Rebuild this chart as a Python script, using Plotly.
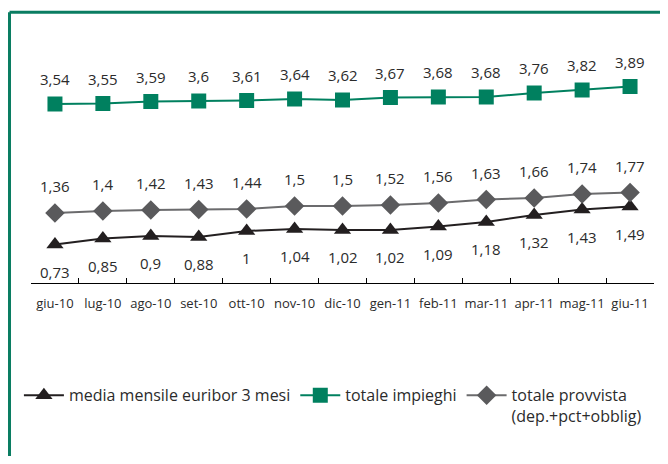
import plotly.graph_objects as go

months = ["giu-10", "lug-10", "ago-10", "set-10", "ott-10", "nov-10", "dic-10",
          "gen-11", "feb-11", "mar-11", "apr-11", "mag-11", "giu-11"]
euribor = [0.73, 0.85, 0.9, 0.88, 1.0, 1.04, 1.02, 1.02, 1.09, 1.18, 1.32, 1.43, 1.49]
impieghi = [3.54, 3.55, 3.59, 3.6, 3.61, 3.64, 3.62, 3.67, 3.68, 3.68, 3.76, 3.82, 3.89]
provvista = [1.36, 1.4, 1.42, 1.43, 1.44, 1.5, 1.5, 1.52, 1.56, 1.63, 1.66, 1.74, 1.77]

names = ["media mensile euribor 3 mesi", "totale impieghi",
         "totale provvista<br>(dep.+pct+obblig)"]

GREEN = "#00805f"
GRAY = "#5a5a5c"
BLACK = "#231f20"
BORDER = "#0a7d62"
FONT = "Open Sans"


def lab(v):
    return f"{v:g}".replace(".", ",")


fig = go.Figure()
fig.add_trace(go.Scatter(x=months, y=euribor, name=names[0], mode="lines+markers",
                         line=dict(color=BLACK, width=2),
                         marker=dict(symbol="triangle-up", size=15, color=BLACK)))
fig.add_trace(go.Scatter(x=months, y=impieghi, name=names[1], mode="lines+markers",
                         line=dict(color=GREEN, width=2),
                         marker=dict(symbol="square", size=15, color=GREEN)))
fig.add_trace(go.Scatter(x=months, y=provvista, name=names[2], mode="lines+markers",
                         line=dict(color="#6b6b6d", width=2),
                         marker=dict(symbol="diamond", size=15, color=GRAY)))

annotations = []
for series, shift in ((impieghi, 25), (provvista, 27), (euribor, -27)):
    for m, v in zip(months, series):
        annotations.append(dict(x=m, y=v, text=lab(v), showarrow=False, yshift=shift,
                                font=dict(family=FONT, size=15, color="#2b2b2b")))

fig.update_layout(
    width=652, height=448,
    margin=dict(l=23, r=6, t=48, b=173, autoexpand=False),
    paper_bgcolor="white", plot_bgcolor="white",
    font=dict(family=FONT, size=13, color="#2b2b2b"),
    showlegend=True,
    legend=dict(orientation="h", x=-0.0194, xanchor="left", y=-0.42, yanchor="top",
                valign="top", font=dict(family=FONT, size=16, color="#2b2b2b"),
                itemwidth=40, traceorder="normal"),
    annotations=annotations,
    xaxis=dict(type="category", range=[-0.5, 12.5], showgrid=False, zeroline=False,
               showline=True, linecolor="black", linewidth=1, tickangle=0,
               ticks="inside", tickson="boundaries", ticklen=5, tickcolor="black",
               ticklabelstandoff=8,
               tickfont=dict(family=FONT, size=13, color="#2b2b2b")),
    yaxis=dict(range=[-0.04, 4.5], visible=False, showgrid=False, zeroline=False),
    shapes=[
        dict(type="line", xref="paper", yref="paper", x0=-0.0345, x1=-0.0345,
             y0=-0.85, y1=1.193, line=dict(color=BORDER, width=3), layer="below"),
        dict(type="line", xref="paper", yref="paper", x0=-0.0345, x1=1.2,
             y0=1.193, y1=1.193, line=dict(color=BORDER, width=3), layer="below"),
    ],
)

fig.write_html("out.html")
